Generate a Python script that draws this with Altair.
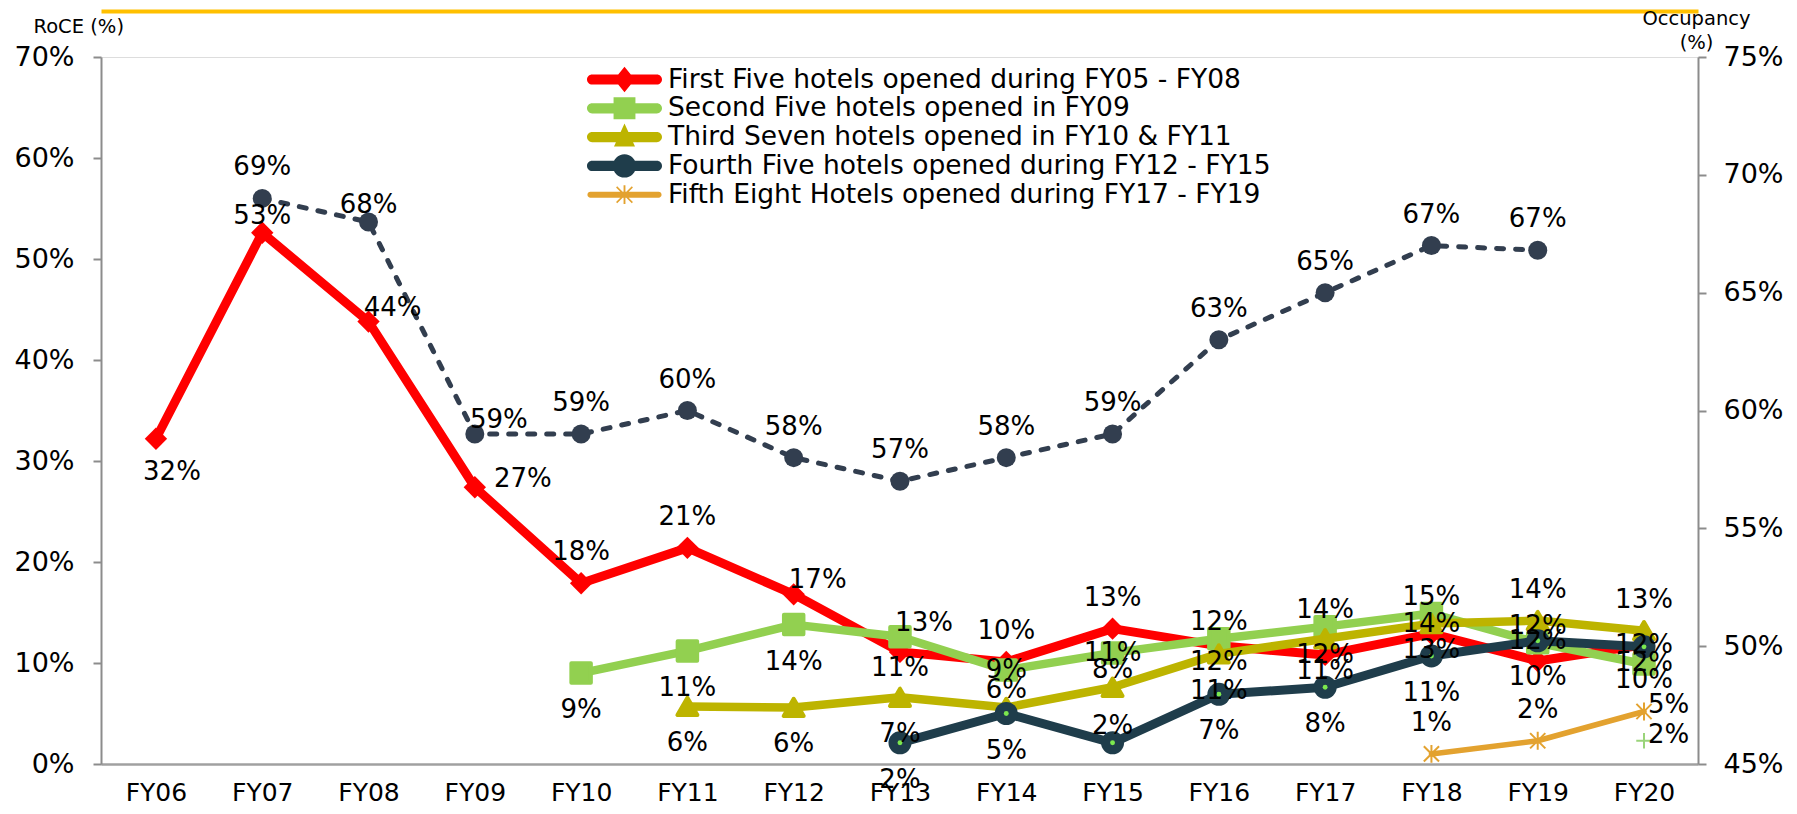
import json
import altair as alt
import pandas as pd

# ---------------- data ----------------
categories = ["FY06", "FY07", "FY08", "FY09", "FY10", "FY11", "FY12", "FY13",
              "FY14", "FY15", "FY16", "FY17", "FY18", "FY19", "FY20"]

series_names = [
    "First Five hotels opened during FY05 - FY08",
    "Second Five hotels opened in FY09",
    "Third Seven hotels opened in FY10 & FY11",
    "Fourth Five hotels opened during FY12 - FY15",
    "Fifth Eight Hotels opened during FY17 - FY19",
]

# RoCE (%) - left axis
roce_first = [32.2, 52.6, 43.8, 27.4, 17.9, 21.4, 16.8, 11.1, 10.1, 13.4, 11.7, 10.8, 12.9, 10.2, 11.8]
roce_second = [None, None, None, None, 9.0, 11.2, 13.8, 12.6, 9.3, 11.0, 12.4, 13.6, 14.9, 12.0, 9.9]
roce_third = [None, None, None, None, None, 5.7, 5.6, 6.6, 5.6, 7.6, 10.9, 12.4, 13.9, 14.2, 13.2]
roce_fourth = [None, None, None, None, None, None, None, 2.1, 5.0, 2.1, 6.9, 7.6, 10.7, 12.2, 11.6]
roce_fifth = [None] * 12 + [1.0, 2.3, 5.2]
roce_extra = [None] * 14 + [2.3]

# Occupancy (%) - right axis
occupancy = [None, 69, 68, 59, 59, 60, 58, 57, 58, 59, 63, 65, 67, 66.8, None]

# label placement keys (a=above, b=below, c=centre, r=right, ar=above-right, 2=close)
pos_first = ["br", "a2", "ar", "r", "a", "a", "ar", "b2", "a", "a", "b2", "b2", "b2", "b2", "c"]
pos_second = [None] * 4 + ["b", "b", "b", "ar", "c", "c", "a2", "a2", "a2", "a2", "b2"]
pos_third = [None] * 5 + ["b", "b", "b", "a2", "a2", "b", "b2", "c", "a", "a"]
pos_fourth = [None] * 7 + ["b", "b", "a2", "b", "b", "b", "c", "b2"]
pos_fifth = [None] * 12 + ["a", "a", "r2"]
pos_extra = [None] * 14 + ["r2"]
pos_occ = [None, "a", "a2", "ar", "a", "a", "a", "a", "a", "a", "a", "a", "a", "a", None]

# ---------------- styles ----------------
FONT = "DejaVu Sans"
RED = "#FF0000"
GREEN = "#92D050"
OLIVE = "#BDB400"
DARK = "#1F3D4B"
ORANGE = "#E3A22F"
OCC = "#323E4F"
DOT = "#7CE84E"
CROSS = "#9AD47A"
GOLD = "#FFC000"
AXIS_GREY = "#8c8c8c"
LABEL_SIZE = 26

# (dx, dy, align)
OFFS = {"a": (0, -31, "center"), "a2": (0, -17, "center"), "b": (0, 37, "center"),
        "b2": (0, 16, "center"), "br": (16, 33, "center"), "c": (0, 0, "center"),
        "ar": (24, -14, "center"), "r": (48, -8, "center"), "r2": (4, -6, "left")}


def frame(series, values, positions):
    rows = []
    for i, (v, p) in enumerate(zip(values, positions)):
        if v is None:
            continue
        rows.append({"series": series, "idx": i, "cat": categories[i], "v": v,
                     "pos": p, "label": f"{v:.0f}%"})
    return pd.DataFrame(rows)


df_first = frame(series_names[0], roce_first, pos_first)
df_second = frame(series_names[1], roce_second, pos_second)
df_third = frame(series_names[2], roce_third, pos_third)
df_fourth = frame(series_names[3], roce_fourth, pos_fourth)
df_fifth = frame(series_names[4], roce_fifth, pos_fifth)
df_extra = frame("extra", roce_extra, pos_extra)
df_occ = frame("Occupancy", occupancy, pos_occ)
df_left_all = pd.concat([df_first, df_second, df_third, df_fourth, df_fifth, df_extra], ignore_index=True)

# ---------------- scales / axes ----------------
xscale = alt.Scale(domain=[-0.517, 14.508], nice=False, zero=False)
yL = alt.Scale(domain=[0, 70], nice=False, zero=False)
yR = alt.Scale(domain=[45, 75], nice=False, zero=False)

x_plain = alt.X("idx:Q", scale=xscale, axis=None)
x_bottom = alt.X("idx:Q", scale=xscale, axis=alt.Axis(
    orient="bottom", values=list(range(len(categories))),
    labelExpr=json.dumps(categories) + "[datum.value]",
    title=None, grid=False, ticks=False, labelPadding=16, labelFontSize=25,
    labelFont=FONT, labelColor="black", labelAngle=0,
    domainColor="#a0a0a0", domainWidth=2.5))
x_top = alt.X("idx:Q", scale=xscale, axis=alt.Axis(
    orient="top", labels=False, ticks=False, grid=False, title=None,
    domainColor=GOLD, domainWidth=4, offset=46))

y_left = alt.Y("v:Q", scale=yL, axis=alt.Axis(
    orient="left", values=[0, 10, 20, 30, 40, 50, 60, 70],
    labelExpr="datum.value + '%'", grid=False, tickSize=8, tickWidth=2,
    tickColor=AXIS_GREY, domainColor=AXIS_GREY, domainWidth=2,
    labelPadding=19, labelFontSize=27, labelFont=FONT, labelColor="black",
    title="RoCE (%)", titleAngle=0, titleAlign="left", titleBaseline="middle",
    titleX=-68, titleY=-31, titleFont=FONT, titleFontSize=19.5,
    titleFontWeight="normal", titleColor="black"))
y_left_plain = alt.Y("v:Q", scale=yL, axis=None)

y_right = alt.Y("v:Q", scale=yR, axis=alt.Axis(
    orient="right", values=[45, 50, 55, 60, 65, 70, 75],
    labelExpr="datum.value + '%'", grid=False, tickSize=8, tickWidth=2,
    tickColor=AXIS_GREY, domainColor=AXIS_GREY, domainWidth=2,
    labelPadding=17, labelFontSize=27, labelFont=FONT, labelColor="black",
    title=["Occupancy", "(%)"], titleAngle=0, titleAlign="center",
    titleBaseline="top", titleX=-2, titleY=-48, titleLineHeight=24,
    titleFont=FONT, titleFontSize=19.5, titleFontWeight="normal", titleColor="black"))


def line(df, color, width, x=x_bottom, y=y_left, dash=None):
    kw = dict(color=color, strokeWidth=width, strokeCap="round", strokeJoin="round")
    if dash is not None:
        kw["strokeDash"] = dash
    return alt.Chart(df).mark_line(**kw).encode(x=x, y=y)


def points(df, shape, size, fill=None, stroke=None, sw=0, x=x_bottom, y=y_left, filled=True):
    kw = dict(shape=shape, size=size, filled=filled, opacity=1, strokeJoin="round")
    if fill is not None:
        kw["fill"] = fill
    if stroke is not None:
        kw["stroke"] = stroke
        kw["strokeWidth"] = sw
    else:
        kw["strokeWidth"] = 0
    return alt.Chart(df).mark_point(**kw).encode(x=x, y=y)


def label_layers(df, x, y):
    out = []
    for key, (dx, dy, align) in OFFS.items():
        sub = df[df["pos"] == key]
        if sub.empty:
            continue
        out.append(alt.Chart(sub).mark_text(
            dx=dx, dy=dy, font=FONT, fontSize=LABEL_SIZE, color="black",
            align=align, baseline="middle").encode(x=x, y=y, text="label:N"))
    return out


ASTERISK = "M0,-1L0,1M-0.85,-0.85L0.85,0.85M-0.85,0.85L0.85,-0.85"
PLUS = "M-1,0L1,0M0,-1L0,1"

# legend symbols: line segment + marker, drawn as filled paths
BAR = "M-2.28,-0.36L2.28,-0.36A0.36,0.36 0 0 1 2.28,0.36L-2.28,0.36A0.36,0.36 0 0 1 -2.28,-0.36Z"
THIN_BAR = "M-2.4,-0.21L2.4,-0.21A0.21,0.21 0 0 1 2.4,0.21L-2.4,0.21A0.21,0.21 0 0 1 -2.4,-0.21Z"
legend_paths = [
    BAR + "M0,-0.9L0.73,0L0,0.9L-0.73,0Z",
    BAR + "M-0.77,-0.77L0.77,-0.77L0.77,0.77L-0.77,0.77Z",
    BAR + "M0,-0.95L0.74,0.66L-0.74,0.66Z",
    BAR + "M-0.82,0A0.82,0.82 0 1 1 0.82,0A0.82,0.82 0 1 1 -0.82,0Z",
    THIN_BAR + "M-0.066,-0.66L0.066,-0.66L0.066,0.66L-0.066,0.66Z"
    + "M-0.515,-0.594L0.594,0.515L0.515,0.594L-0.594,-0.515Z"
    + "M-0.594,0.515L0.515,-0.594L0.594,-0.515L-0.515,0.594Z",
]
legend_colors = [RED, GREEN, OLIVE, DARK, ORANGE]

leg = alt.Legend(orient="none", legendX=509, legendY=8, title=None,
                 symbolSize=807, symbolStrokeWidth=0, symbolOpacity=1,
                 labelFont=FONT, labelFontSize=26.5, labelColor="black",
                 labelOffset=29, labelLimit=900, rowPadding=0.8, padding=0)

df_leg = pd.DataFrame({"series": series_names, "idx": [0] * 5, "v": [0] * 5})
legend_layer = alt.Chart(df_leg).mark_point(filled=True, opacity=0).encode(
    x=x_bottom, y=y_left,
    color=alt.Color("series:N", scale=alt.Scale(domain=series_names, range=legend_colors), legend=leg),
    shape=alt.Shape("series:N", scale=alt.Scale(domain=series_names, range=legend_paths), legend=leg),
)

left_group = alt.layer(
    line(df_first, RED, 9),
    points(df_first, "diamond", 500, fill=RED),
    line(df_second, GREEN, 8.5),
    points(df_second, "square", 380, fill=GREEN, stroke=GREEN, sw=4),
    line(df_third, OLIVE, 8.5),
    points(df_third, "triangle-up", 400, fill=OLIVE, stroke=OLIVE, sw=4),
    line(df_fourth, DARK, 9),
    points(df_fourth, "circle", 530, fill=DARK),
    points(df_fourth, "circle", 24, fill=DOT),
    line(df_fifth, ORANGE, 5.5),
    points(df_fifth, ASTERISK, 320, stroke=ORANGE, sw=2, filled=False),
    points(df_extra, PLUS, 240, stroke=CROSS, sw=2, filled=False),
    legend_layer,
)

right_group = alt.layer(
    line(df_occ, OCC, 5, x=x_top, y=y_right, dash=[7, 12]),
    points(df_occ, "circle", 361, fill=OCC, x=x_top, y=y_right),
    *label_layers(df_occ, x_top, y_right),
)

labels_group = alt.layer(*label_layers(df_left_all, x_plain, y_left_plain))

chart = (
    alt.layer(left_group, right_group, labels_group)
    .resolve_scale(y="independent")
    .properties(width=1597, height=707,
                padding={"left": 5, "top": 0, "right": 3, "bottom": 0})
    .configure_view(strokeWidth=0)
    .configure(font=FONT)
)

chart.save("out.html", embed_options={"renderer": "svg", "actions": False})
